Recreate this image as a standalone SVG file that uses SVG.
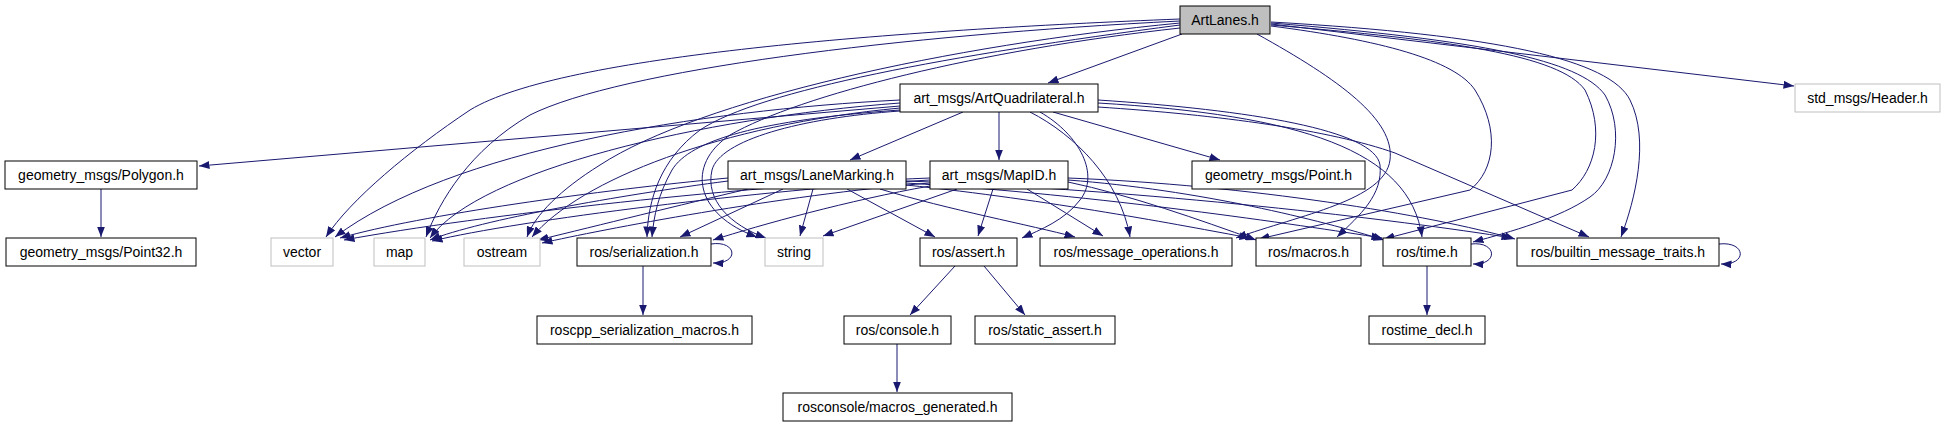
<svg xmlns="http://www.w3.org/2000/svg" width="1944" height="427" viewBox="0 0 1944 427">
<defs>
<marker id="a" markerWidth="11" markerHeight="8" refX="10.5" refY="4" orient="auto" markerUnits="userSpaceOnUse">
<path d="M0,0 L10.5,4 L0,8 z" fill="#191970"/>
</marker>
<style>
rect{fill:#fff;stroke:#000;stroke-width:1}
.ext rect{stroke:#bfbfbf}
.root rect{fill:#bfbfbf}
text{font-family:"Liberation Sans",Arial,sans-serif;font-size:14px;fill:#000;text-anchor:middle}
#edges path{fill:none;stroke:#191970;stroke-width:1;marker-end:url(#a)}
</style>
</defs>
<rect x="0" y="0" width="1944" height="427" style="fill:#fff;stroke:none"/>
<g id="edges">
<path d="M1182,34 L1048,83"/>
<path d="M1271,24 L1794,86"/>
<path d="M1180,19 C900,30 560,55 470,110 C410,150 350,200 326,237"/>
<path d="M1180,21 C900,35 620,70 530,115 C470,150 440,200 426,237"/>
<path d="M1180,23 C950,45 700,100 600,165 C560,190 535,215 527,237"/>
<path d="M1180,25 C950,55 760,90 700,130 C660,160 648,200 647,237"/>
<path d="M1180,28 C980,50 800,95 730,135 C685,165 695,215 757,237"/>
<path d="M1257,34 C1340,80 1395,120 1390,160 C1385,200 1300,215 1236,238"/>
<path d="M1271,26 C1380,40 1455,60 1475,90 C1500,130 1495,170 1470,190 L1259,239"/>
<path d="M1271,25 C1450,40 1560,55 1585,90 C1605,130 1595,170 1572,190 L1384,239"/>
<path d="M1271,23 C1480,40 1580,60 1605,95 C1625,130 1615,180 1590,197 C1560,218 1510,232 1473,242"/>
<path d="M1271,22 C1500,35 1610,60 1630,100 C1650,140 1635,200 1621,237"/>
<path d="M900,106 L199,166"/>
<path d="M963,112 L850,160"/>
<path d="M999,112 L999,160"/>
<path d="M1053,112 L1220,160"/>
<path d="M900,100 C700,110 450,150 335,237"/>
<path d="M900,103 C700,118 480,170 430,238"/>
<path d="M900,108 C720,125 580,180 532,237"/>
<path d="M900,110 C760,120 690,140 672,170 C658,195 654,215 652,237"/>
<path d="M900,111 C800,118 720,140 712,170 C705,200 730,225 766,238"/>
<path d="M1040,112 C1080,135 1100,175 1080,200 C1065,220 1040,230 1022,238"/>
<path d="M1030,112 C1075,135 1120,180 1130,237"/>
<path d="M1098,100 C1250,110 1375,130 1380,165 C1383,195 1360,215 1337,237"/>
<path d="M1098,103 C1300,115 1410,150 1422,237"/>
<path d="M1098,107 C1220,115 1330,130 1395,153 L1589,237"/>
<path d="M728,178 C600,190 420,215 340,238"/>
<path d="M728,181 C620,195 480,220 430,240"/>
<path d="M748,189 C680,205 600,225 538,240"/>
<path d="M783,189 L680,237"/>
<path d="M813,189 L800,236"/>
<path d="M847,189 L935,237"/>
<path d="M880,189 C950,210 1030,225 1075,237"/>
<path d="M906,185 C1050,200 1180,225 1250,238"/>
<path d="M906,183 C1100,195 1300,225 1382,238"/>
<path d="M906,181 C1150,190 1400,220 1512,238"/>
<path d="M930,178 C750,185 480,215 344,240"/>
<path d="M930,180 C760,190 520,220 432,241"/>
<path d="M930,183 C780,195 600,230 542,243"/>
<path d="M930,186 C850,200 760,225 713,240"/>
<path d="M957,189 L823,236"/>
<path d="M993,189 L978,236"/>
<path d="M1027,189 L1103,236"/>
<path d="M1068,182 C1130,195 1200,220 1256,240"/>
<path d="M1068,180 C1200,190 1320,220 1384,240"/>
<path d="M1068,178 C1250,185 1430,215 1515,239"/>
<path d="M101,189 L101,237"/>
<path d="M711,244 C737,240 740,264 713,263"/>
<path d="M643,266 L643,315"/>
<path d="M955,266 L910,315"/>
<path d="M984,266 L1025,315"/>
<path d="M897,344 L897,392"/>
<path d="M1471,244 C1497,241 1499,265 1473,264"/>
<path d="M1427,266 L1427,315"/>
<path d="M1719,244 C1746,241 1748,265 1721,264"/>
</g>
<g id="n_artlanes" class="root"><rect x="1180" y="6" width="90" height="28"/><text x="1225" y="25">ArtLanes.h</text></g>
<g id="n_artquad"><rect x="900" y="84" width="198" height="28"/><text x="999" y="103">art_msgs/ArtQuadrilateral.h</text></g>
<g id="n_header" class="ext"><rect x="1795" y="84" width="145" height="28"/><text x="1867.5" y="103">std_msgs/Header.h</text></g>
<g id="n_polygon"><rect x="5" y="161" width="192" height="28"/><text x="101" y="180">geometry_msgs/Polygon.h</text></g>
<g id="n_lanemarking"><rect x="728" y="161" width="178" height="28"/><text x="817" y="180">art_msgs/LaneMarking.h</text></g>
<g id="n_mapid"><rect x="930" y="161" width="138" height="28"/><text x="999" y="180">art_msgs/MapID.h</text></g>
<g id="n_point"><rect x="1192" y="161" width="173" height="28"/><text x="1278.5" y="180">geometry_msgs/Point.h</text></g>
<g id="n_point32"><rect x="6" y="238" width="190" height="28"/><text x="101" y="257">geometry_msgs/Point32.h</text></g>
<g id="n_vector" class="ext"><rect x="271" y="238" width="62" height="28"/><text x="302" y="257">vector</text></g>
<g id="n_map" class="ext"><rect x="374" y="238" width="51" height="28"/><text x="399.5" y="257">map</text></g>
<g id="n_ostream" class="ext"><rect x="464" y="238" width="76" height="28"/><text x="502" y="257">ostream</text></g>
<g id="n_serialization"><rect x="577" y="238" width="134" height="28"/><text x="644" y="257">ros/serialization.h</text></g>
<g id="n_string" class="ext"><rect x="765" y="238" width="58" height="28"/><text x="794" y="257">string</text></g>
<g id="n_assert"><rect x="920" y="238" width="97" height="28"/><text x="968.5" y="257">ros/assert.h</text></g>
<g id="n_msgops"><rect x="1040" y="238" width="192" height="28"/><text x="1136" y="257">ros/message_operations.h</text></g>
<g id="n_macros"><rect x="1256" y="238" width="105" height="28"/><text x="1308.5" y="257">ros/macros.h</text></g>
<g id="n_time"><rect x="1383" y="238" width="88" height="28"/><text x="1427" y="257">ros/time.h</text></g>
<g id="n_builtin"><rect x="1517" y="238" width="202" height="28"/><text x="1618" y="257">ros/builtin_message_traits.h</text></g>
<g id="n_roscppmacros"><rect x="537" y="316" width="215" height="28"/><text x="644.5" y="335">roscpp_serialization_macros.h</text></g>
<g id="n_console"><rect x="844" y="316" width="107" height="28"/><text x="897.5" y="335">ros/console.h</text></g>
<g id="n_staticassert"><rect x="975" y="316" width="140" height="28"/><text x="1045" y="335">ros/static_assert.h</text></g>
<g id="n_rostimedecl"><rect x="1369" y="316" width="116" height="28"/><text x="1427" y="335">rostime_decl.h</text></g>
<g id="n_macrosgen"><rect x="783" y="393" width="229" height="28"/><text x="897.5" y="412">rosconsole/macros_generated.h</text></g>
</svg>
